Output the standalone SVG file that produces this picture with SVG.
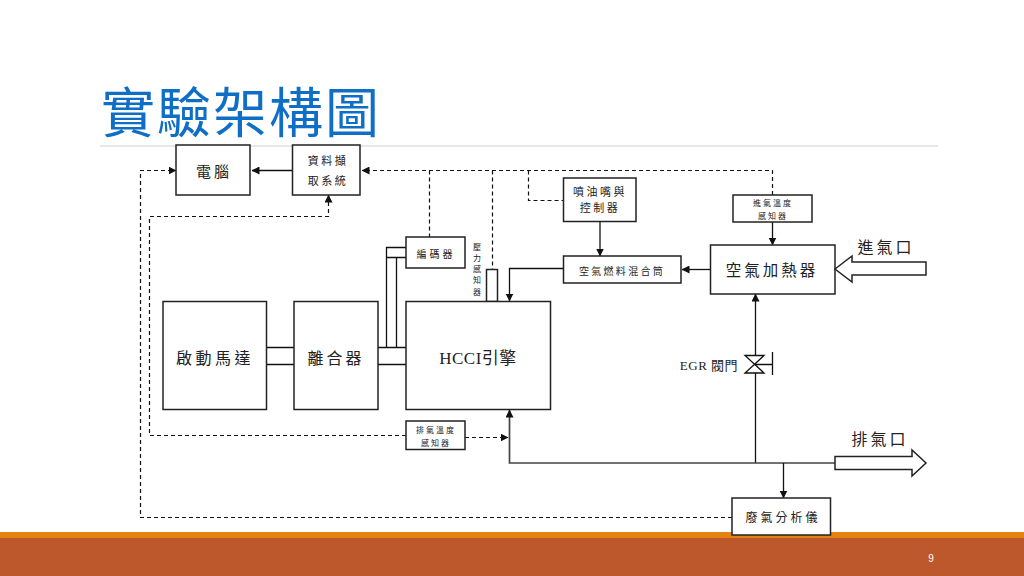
<svg xmlns="http://www.w3.org/2000/svg" width="1024" height="576" viewBox="0 0 1024 576">
<style>
text{font-family:"Noto Sans CJK TC","Noto Sans CJK SC",sans-serif;fill:#222;text-anchor:middle}
.latin{font-family:"Liberation Serif","Noto Sans CJK TC",serif}
.b{fill:#fff;stroke:#222;stroke-width:1.5}
.l{fill:none;stroke:#111;stroke-width:1.3}
.d{fill:none;stroke:#111;stroke-width:1.2;stroke-dasharray:4 3}
.g{fill:none;stroke:#444;stroke-width:1.7}
.s12{font-size:11px;letter-spacing:2.5px}
.s9{font-size:8px;letter-spacing:2px}
.s16{font-size:16px;letter-spacing:3px}
</style>
<defs>
<marker id="a" viewBox="0 0 8 8" refX="7.5" refY="4" markerWidth="8" markerHeight="8" markerUnits="userSpaceOnUse" orient="auto"><path d="M0 0L8 4L0 8Z" fill="#111"/></marker>
</defs>
<rect id="footer-top" x="0" y="532" width="1024" height="6" fill="#E48312"/>
<rect id="footer" x="0" y="538" width="1024" height="38" fill="#BD582C"/>
<text x="931" y="562" style="font-size:10px;fill:#fff;font-family:'Liberation Sans',sans-serif">9</text>
<text x="241" y="133" style="font-size:54px;letter-spacing:2px;fill:#0F6FC6">實驗架構圖</text>
<line x1="100" y1="146" x2="938" y2="146" stroke="#d0d0d0" stroke-width="1.2"/>

<g id="connectors">
<path class="l" marker-end="url(#a)" d="M292 170.500H252"/>
<path class="d" marker-end="url(#a)" d="M772.500 195V170.500H362"/>
<path class="d" d="M429.500 170.500V237M492.500 170.500V269M528.500 170.500V200.500H563"/>
<path class="d" marker-end="url(#a)" d="M732 517.500H140.500V170.500H176"/>
<path class="d" marker-end="url(#a)" d="M406 435.500H149.500V216.500H328.500V195"/>
<path class="d" marker-end="url(#a)" d="M465 437.500H508"/>
<path class="l" marker-end="url(#a)" d="M600 221V256"/>
<path class="l" marker-end="url(#a)" d="M772.500 222V245"/>
<path class="l" marker-end="url(#a)" d="M710 269.500H682"/>
<path class="l" marker-end="url(#a)" d="M563 268.500H509.500V301"/>
<path class="l" marker-end="url(#a)" d="M755.500 463V294"/>
<path class="g" marker-end="url(#a)" d="M835 463H509.500V410"/>
<path class="l" marker-end="url(#a)" d="M783.500 463V498"/>
<path class="l" d="M386.500 347V247.500H406M396.500 347V257.500M386.500 257.500H406"/>
<path class="l" d="M266 347.500H294M266 364.500H294M378 347.500H406M378 364.500H406"/>
</g>

<g id="computer"><rect class="b" x="176" y="145" width="74" height="50"/><text class="s16" x="214" y="177" style="font-size:15px">電腦</text></g>
<g id="daq"><rect class="b" x="292.500" y="145" width="67.500" height="50"/><text class="s12" x="328" y="165">資料擷</text><text class="s12" x="328" y="185">取系統</text></g>
<g id="encoder"><rect class="b" x="406" y="237" width="59" height="31"/><text class="s9" x="436" y="258" style="font-size:10px;letter-spacing:3px">編碼器</text></g>
<g id="pressure-sensor"><rect class="b" x="486.500" y="269.500" width="11" height="32"/>
<text class="s9" x="478" y="250">壓</text><text class="s9" x="478" y="261">力</text><text class="s9" x="478" y="272">感</text><text class="s9" x="478" y="283">知</text><text class="s9" x="478" y="295">器</text></g>
<g id="motor"><rect class="b" x="163" y="301.500" width="103.500" height="108"/><text class="s16" x="215" y="364" style="letter-spacing:3.500px">啟動馬達</text></g>
<g id="clutch"><rect class="b" x="294" y="301.500" width="84" height="108"/><text class="s16" x="336" y="364">離合器</text></g>
<g id="engine"><rect class="b" x="406" y="301.500" width="144.500" height="108"/><text class="latin" x="478" y="364" style="font-size:17px;letter-spacing:.5px">HCCI引擎</text></g>
<g id="injector"><rect class="b" x="563.500" y="178" width="72.500" height="43.500"/><text class="s12" x="600" y="196">噴油嘴與</text><text class="s12" x="600" y="212">控制器</text></g>
<g id="intake-temp"><rect class="b" x="733" y="195" width="79" height="27"/><text class="s9" x="773" y="206">進氣溫度</text><text class="s9" x="773" y="219">感知器</text></g>
<g id="mixer"><rect class="b" x="563.500" y="256" width="117.500" height="27"/><text class="s12" x="622" y="275" style="font-size:10px;letter-spacing:2.300px">空氣燃料混合筒</text></g>
<g id="heater"><rect class="b" x="710.500" y="245" width="124.500" height="49"/><text class="s16" x="772" y="276" style="font-size:15.500px">空氣加熱器</text></g>
<g id="intake-port"><path class="b" d="M835 269L852 256V262H926V275H852V282Z"/><text class="s16" x="886" y="253">進氣口</text></g>
<g id="egr-valve"><path fill="#fff" stroke="#111" stroke-width="1.300" d="M745 355.500H764L745 373H764Z"/><path class="l" d="M755 364.500H772.500M772.500 352V375"/><text class="latin" x="709" y="370" style="font-size:13px;letter-spacing:.5px">EGR 閥門</text></g>
<g id="exhaust-sensor"><rect class="b" x="406" y="421" width="59" height="28.500"/><text class="s9" x="436" y="433">排氣溫度</text><text class="s9" x="436" y="446">感知器</text></g>
<g id="exhaust-port"><path class="b" d="M835 456.500H912V450L926 463L912 476V469.500H835Z"/><text class="s16" x="880" y="445">排氣口</text></g>
<g id="analyzer"><rect class="b" x="732" y="498" width="98.500" height="37"/><text class="s12" x="783" y="522" style="font-size:12px;letter-spacing:3px">廢氣分析儀</text></g>
</svg>
